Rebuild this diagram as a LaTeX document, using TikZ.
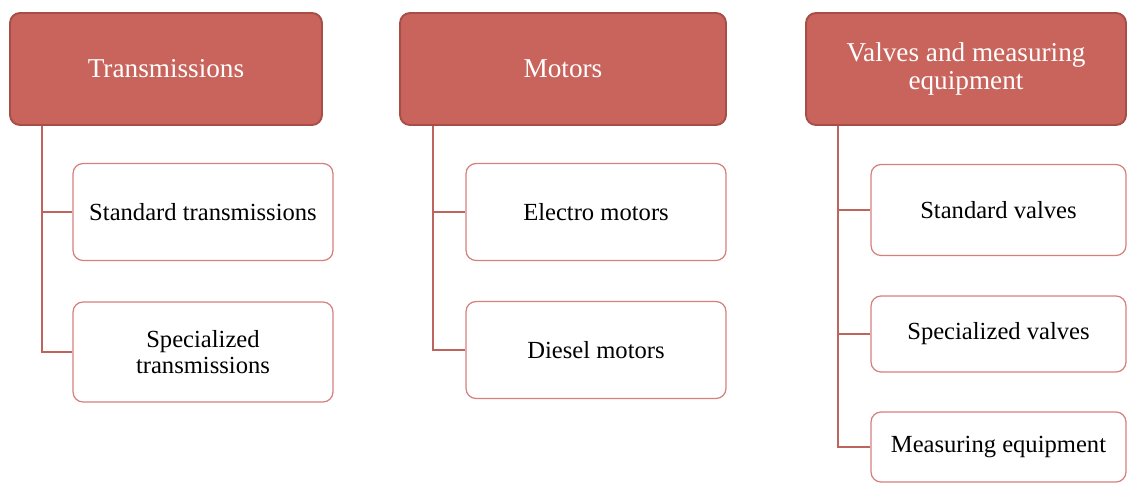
\documentclass[tikz,border=0pt]{standalone}
\usepackage{fontspec}
\setmainfont{Liberation Serif}
\usetikzlibrary{calc}
\definecolor{headfill}{RGB}{201,100,93}
\definecolor{headline}{RGB}{168,78,72}
\definecolor{itemline}{RGB}{214,128,124}
\definecolor{linkline}{RGB}{190,100,95}
\begin{document}
\begin{tikzpicture}[x=0.02cm,y=-0.02cm,
    head/.style={draw=headline,line width=1.1pt,fill=headfill,rounded corners=0.2cm,
        text=white,align=center,font=\fontsize{15.5}{15.5}\selectfont,inner sep=0pt},
    item/.style={draw=itemline,line width=0.7pt,fill=white,rounded corners=0.2cm,
        text=black,align=center,font=\fontsize{14}{14.5}\selectfont,inner sep=0pt,
        minimum width=5.2cm},
    link/.style={draw=linkline,line width=1pt}]
        \useasboundingbox(0,0)rectangle(1127,484);
        \node[head,minimum width=6.24cm,minimum height=2.24cm](trans)at(166,69){Transmissions};
        \node[head,minimum width=6.52cm,minimum height=2.24cm](motor)at(563,69){Motors};
        \node[head,minimum width=6.4cm,minimum height=2.24cm](valve)at(966,69){Valves and measuring\\equipment};
        \node[item,minimum height=1.94cm](stdtrans)at(203,212){Standard transmissions};
        \node[item,minimum height=2cm](spctrans)at(203,352){Specialized\\transmissions};
        \node[item,minimum height=1.94cm](elmotor)at(596,212){Electro motors};
        \node[item,minimum height=1.94cm](dsmotor)at(596,350){Diesel motors};
        \node[item,minimum width=5.1cm,minimum height=1.82cm](stdvalve)at(998.5,210){Standard valves};
        \node[item,minimum width=5.1cm,minimum height=1.52cm](spcvalve)at(998.5,334){Specialized valves};
        \node[item,minimum width=5.1cm,minimum height=1.4cm](measure)at(998.5,447){Measuring equipment};
        \coordinate(t1)at($(trans.south west)+(33,0)$);
        \coordinate(t2)at($(motor.south west)+(34,0)$);
        \coordinate(t3)at($(valve.south west)+(33,0)$);
        \draw[link](t1)|-(stdtrans.west);
        \draw[link](t1)|-(spctrans.west);
        \draw[link](t2)|-(elmotor.west);
        \draw[link](t2)|-(dsmotor.west);
        \draw[link](t3)|-(stdvalve.west);
        \draw[link](t3)|-(spcvalve.west);
        \draw[link](t3)|-(measure.west);
    \end{tikzpicture}
\end{document}
